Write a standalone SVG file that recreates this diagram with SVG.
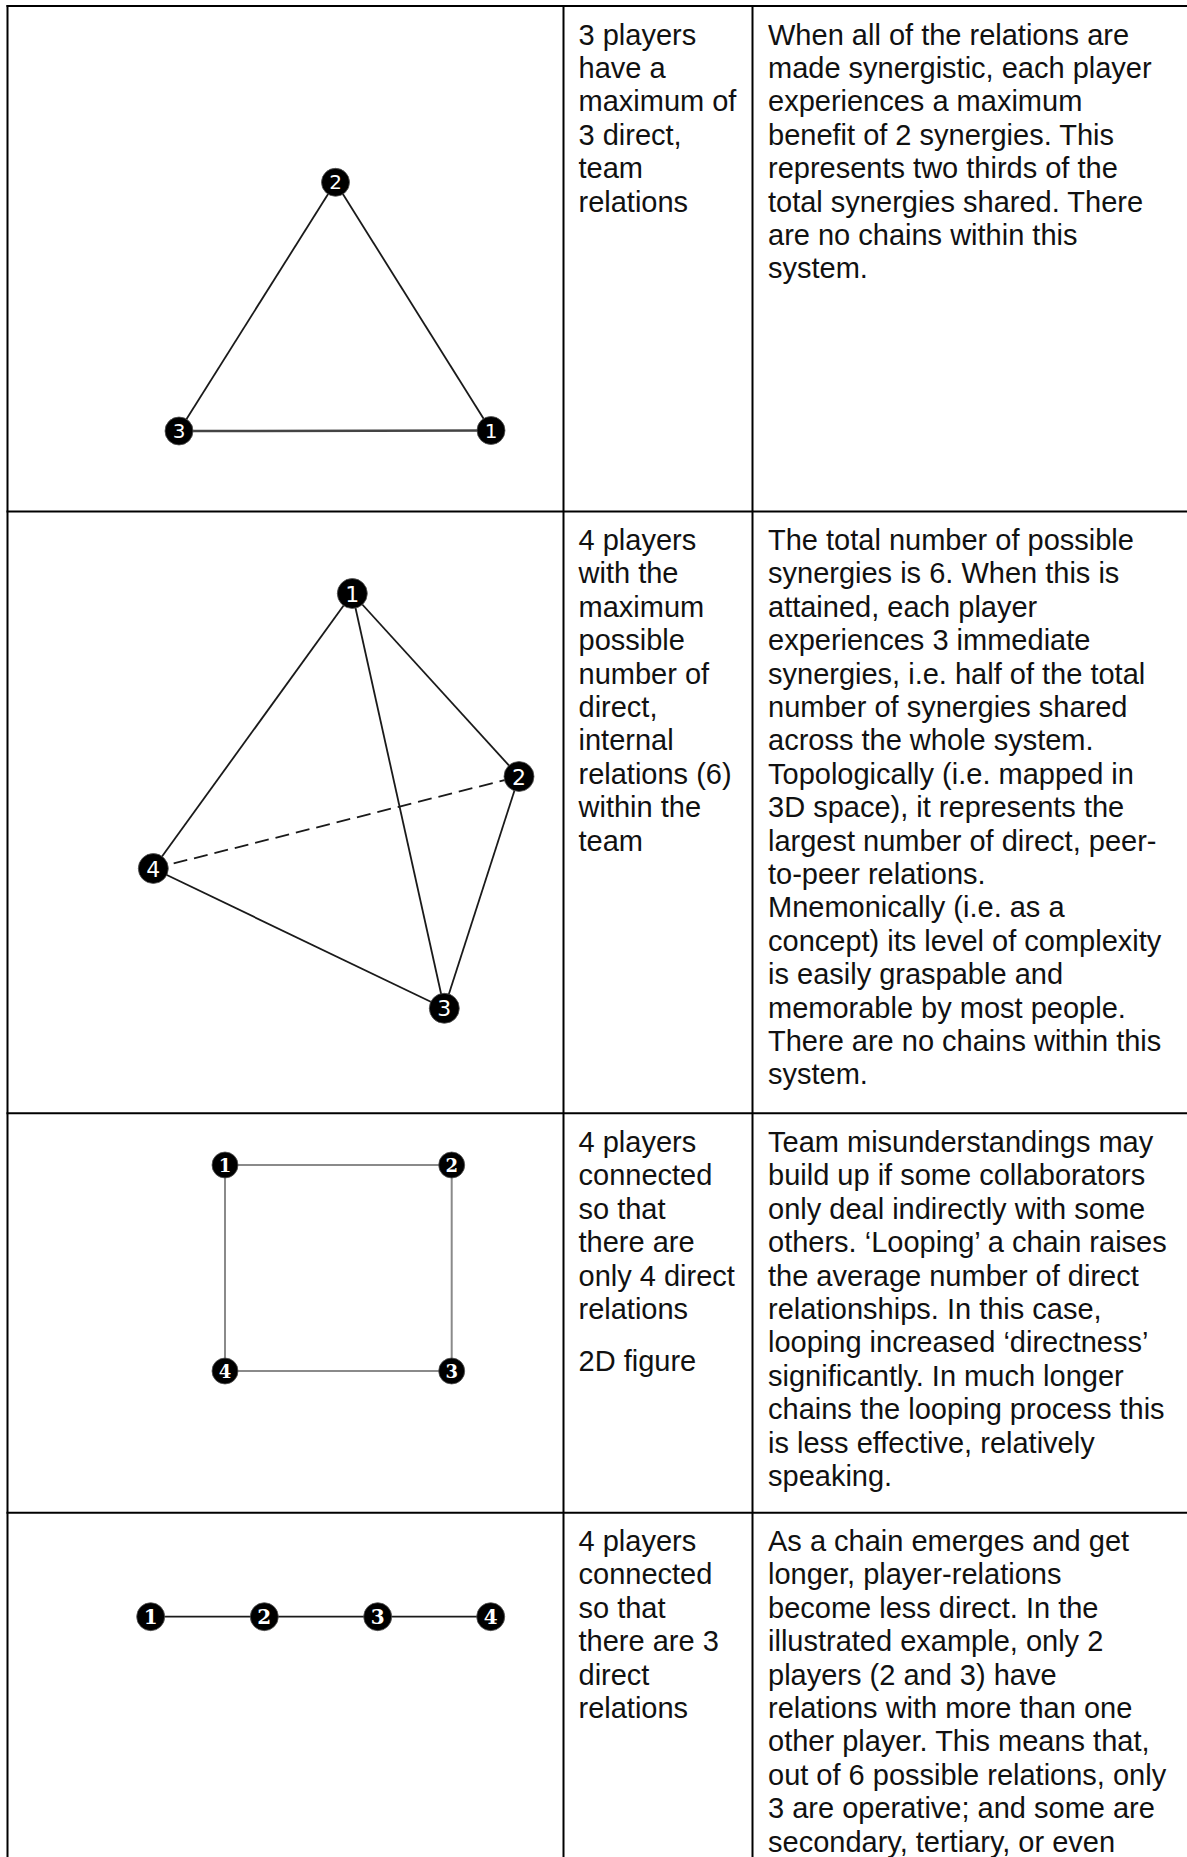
<svg xmlns="http://www.w3.org/2000/svg" width="1187" height="1857" viewBox="0 0 1187 1857">
<style>
.grid{stroke:#000;stroke-width:2;fill:none}
.t{font-family:"Liberation Sans",Arial,sans-serif;font-size:29px;fill:#111}
.edge{stroke:#1a1a1a;stroke-width:1.8;fill:none}
.edge-g{stroke:#8a8a8a;stroke-width:2;fill:none}
.dash{stroke:#1a1a1a;stroke-width:1.8;fill:none;stroke-dasharray:14 7}
.dot{fill:#000;stroke:#555;stroke-width:0.8}
.ns{font-family:"DejaVu Sans",sans-serif;fill:#fff;text-anchor:middle}
.nb{font-family:"DejaVu Serif",serif;font-weight:bold;fill:#fff;text-anchor:middle}
</style>
<rect width="1187" height="1857" fill="#fff"/>
<g id="table">
<line class="grid" x1="6.5" y1="6" x2="1187" y2="6"/>
<line class="grid" x1="6.5" y1="511.4" x2="1187" y2="511.4"/>
<line class="grid" x1="6.5" y1="1113.3" x2="1187" y2="1113.3"/>
<line class="grid" x1="6.5" y1="1512.7" x2="1187" y2="1512.7"/>
<line class="grid" x1="7.5" y1="5" x2="7.5" y2="1857"/>
<line class="grid" x1="563.5" y1="5" x2="563.5" y2="1857"/>
<line class="grid" x1="752.5" y1="5" x2="752.5" y2="1857"/>
</g>
<g id="connectors">
<line class="edge" x1="335.5" y1="182.3" x2="179" y2="431"/>
<line class="edge" x1="335.5" y1="182.3" x2="491" y2="430.5"/>
<line x1="179" y1="431" x2="491" y2="430.5" stroke="#444" stroke-width="2.5"/>
<line class="edge" x1="352.3" y1="593.5" x2="153.3" y2="868.5"/>
<line class="edge" x1="352.3" y1="593.5" x2="519" y2="776.5"/>
<line class="edge" x1="352.3" y1="593.5" x2="444.3" y2="1008.3"/>
<line class="edge" x1="519" y1="776.5" x2="444.3" y2="1008.3"/>
<line class="edge" x1="153.3" y1="868.5" x2="444.3" y2="1008.3"/>
<line class="dash" x1="153.3" y1="868.5" x2="519" y2="776.5"/>
<line class="edge-g" x1="225" y1="1165" x2="451.7" y2="1165"/>
<line class="edge-g" x1="451.7" y1="1165" x2="451.7" y2="1371"/>
<line class="edge-g" x1="451.7" y1="1371" x2="225" y2="1371"/>
<line class="edge-g" x1="225" y1="1371" x2="225" y2="1165"/>
<line class="edge" x1="150.7" y1="1616.7" x2="264.3" y2="1616.7"/>
<line class="edge" x1="264.3" y1="1616.7" x2="377.7" y2="1616.7"/>
<line class="edge" x1="377.7" y1="1616.7" x2="490.7" y2="1616.7"/>
</g>
<g id="tri-1"><circle class="dot" cx="491" cy="430.5" r="14"/><text class="ns" x="491" y="437.5" font-size="20">1</text></g>
<g id="tri-2"><circle class="dot" cx="335.5" cy="182.3" r="14"/><text class="ns" x="335.5" y="189.3" font-size="20">2</text></g>
<g id="tri-3"><circle class="dot" cx="179" cy="431" r="14"/><text class="ns" x="179" y="438" font-size="20">3</text></g>
<g id="tet-1"><circle class="dot" cx="352.3" cy="593.5" r="15"/><text class="ns" x="352.3" y="601.5" font-size="22">1</text></g>
<g id="tet-2"><circle class="dot" cx="519" cy="776.5" r="15"/><text class="ns" x="519" y="784.5" font-size="22">2</text></g>
<g id="tet-3"><circle class="dot" cx="444.3" cy="1008.3" r="15"/><text class="ns" x="444.3" y="1016.3" font-size="22">3</text></g>
<g id="tet-4"><circle class="dot" cx="153.3" cy="868.5" r="15"/><text class="ns" x="153.3" y="876.5" font-size="22">4</text></g>
<g id="sq-1"><circle class="dot" cx="225" cy="1165" r="13"/><text class="nb" x="225" y="1171.5" font-size="18">1</text></g>
<g id="sq-2"><circle class="dot" cx="451.7" cy="1165" r="13"/><text class="nb" x="451.7" y="1171.5" font-size="18">2</text></g>
<g id="sq-3"><circle class="dot" cx="451.7" cy="1371" r="13"/><text class="nb" x="451.7" y="1377.5" font-size="18">3</text></g>
<g id="sq-4"><circle class="dot" cx="225" cy="1371" r="13"/><text class="nb" x="225" y="1377.5" font-size="18">4</text></g>
<g id="ch-1"><circle class="dot" cx="150.7" cy="1616.7" r="14"/><text class="nb" x="150.7" y="1623.7" font-size="20">1</text></g>
<g id="ch-2"><circle class="dot" cx="264.3" cy="1616.7" r="14"/><text class="nb" x="264.3" y="1623.7" font-size="20">2</text></g>
<g id="ch-3"><circle class="dot" cx="377.7" cy="1616.7" r="14"/><text class="nb" x="377.7" y="1623.7" font-size="20">3</text></g>
<g id="ch-4"><circle class="dot" cx="490.7" cy="1616.7" r="14"/><text class="nb" x="490.7" y="1623.7" font-size="20">4</text></g>
<g id="text-row1">
<text class="t"><tspan x="578.5" y="44.5">3 players</tspan><tspan x="578.5" y="77.9">have a</tspan><tspan x="578.5" y="111.3">maximum of</tspan><tspan x="578.5" y="144.7">3 direct,</tspan><tspan x="578.5" y="178.1">team</tspan><tspan x="578.5" y="211.5">relations</tspan></text>
<text class="t"><tspan x="768" y="44.5">When all of the relations are</tspan><tspan x="768" y="77.9">made synergistic, each player</tspan><tspan x="768" y="111.3">experiences a maximum</tspan><tspan x="768" y="144.7">benefit of 2 synergies. This</tspan><tspan x="768" y="178.1">represents two thirds of the</tspan><tspan x="768" y="211.5">total synergies shared. There</tspan><tspan x="768" y="244.9">are no chains within this</tspan><tspan x="768" y="278.3">system.</tspan></text>
</g>
<g id="text-row2">
<text class="t"><tspan x="578.5" y="550">4 players</tspan><tspan x="578.5" y="583.4">with the</tspan><tspan x="578.5" y="616.8">maximum</tspan><tspan x="578.5" y="650.2">possible</tspan><tspan x="578.5" y="683.6">number of</tspan><tspan x="578.5" y="717">direct,</tspan><tspan x="578.5" y="750.4">internal</tspan><tspan x="578.5" y="783.8">relations (6)</tspan><tspan x="578.5" y="817.2">within the</tspan><tspan x="578.5" y="850.6">team</tspan></text>
<text class="t"><tspan x="768" y="550">The total number of possible</tspan><tspan x="768" y="583.4">synergies is 6. When this is</tspan><tspan x="768" y="616.8">attained, each player</tspan><tspan x="768" y="650.2">experiences 3 immediate</tspan><tspan x="768" y="683.6">synergies, i.e. half of the total</tspan><tspan x="768" y="717">number of synergies shared</tspan><tspan x="768" y="750.4">across the whole system.</tspan><tspan x="768" y="783.8">Topologically (i.e. mapped in</tspan><tspan x="768" y="817.2">3D space), it represents the</tspan><tspan x="768" y="850.6">largest number of direct, peer-</tspan><tspan x="768" y="884">to-peer relations.</tspan><tspan x="768" y="917.4">Mnemonically (i.e. as a</tspan><tspan x="768" y="950.8">concept) its level of complexity</tspan><tspan x="768" y="984.2">is easily graspable and</tspan><tspan x="768" y="1017.6">memorable by most people.</tspan><tspan x="768" y="1051">There are no chains within this</tspan><tspan x="768" y="1084.4">system.</tspan></text>
</g>
<g id="text-row3">
<text class="t"><tspan x="578.5" y="1152">4 players</tspan><tspan x="578.5" y="1185.4">connected</tspan><tspan x="578.5" y="1218.8">so that</tspan><tspan x="578.5" y="1252.2">there are</tspan><tspan x="578.5" y="1285.6">only 4 direct</tspan><tspan x="578.5" y="1319">relations</tspan><tspan x="578.5" y="1370.5">2D figure</tspan></text>
<text class="t"><tspan x="768" y="1152">Team misunderstandings may</tspan><tspan x="768" y="1185.4">build up if some collaborators</tspan><tspan x="768" y="1218.8">only deal indirectly with some</tspan><tspan x="768" y="1252.2">others. ‘Looping’ a chain raises</tspan><tspan x="768" y="1285.6">the average number of direct</tspan><tspan x="768" y="1319">relationships. In this case,</tspan><tspan x="768" y="1352.4">looping increased ‘directness’</tspan><tspan x="768" y="1385.8">significantly. In much longer</tspan><tspan x="768" y="1419.2">chains the looping process this</tspan><tspan x="768" y="1452.6">is less effective, relatively</tspan><tspan x="768" y="1486">speaking.</tspan></text>
</g>
<g id="text-row4">
<text class="t"><tspan x="578.5" y="1551">4 players</tspan><tspan x="578.5" y="1584.4">connected</tspan><tspan x="578.5" y="1617.8">so that</tspan><tspan x="578.5" y="1651.2">there are 3</tspan><tspan x="578.5" y="1684.6">direct</tspan><tspan x="578.5" y="1718">relations</tspan></text>
<text class="t"><tspan x="768" y="1551">As a chain emerges and get</tspan><tspan x="768" y="1584.4">longer, player-relations</tspan><tspan x="768" y="1617.8">become less direct. In the</tspan><tspan x="768" y="1651.2">illustrated example, only 2</tspan><tspan x="768" y="1684.6">players (2 and 3) have</tspan><tspan x="768" y="1718">relations with more than one</tspan><tspan x="768" y="1751.4">other player. This means that,</tspan><tspan x="768" y="1784.8">out of 6 possible relations, only</tspan><tspan x="768" y="1818.2">3 are operative; and some are</tspan><tspan x="768" y="1851.6">secondary, tertiary, or even</tspan></text>
</g>
</svg>
